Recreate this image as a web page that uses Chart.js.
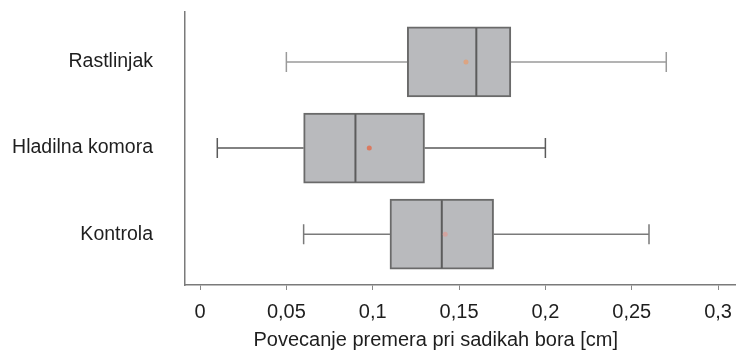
<!DOCTYPE html>
<html>
<head>
<meta charset="utf-8">
<script src="https://cdn.jsdelivr.net/npm/chart.js@4/dist/chart.umd.min.js"></script>
<style>
  html, body { margin: 0; padding: 0; background: #fff; }
  #wrap { width: 736px; height: 351px; }
</style>
</head>
<body>
<div id="wrap"><canvas id="c" width="736" height="351"></canvas></div>
<script>
// Povečanje premera sadik bora po obravnavanju (cm)
const categories  = ['Rastlinjak', 'Hladilna komora', 'Kontrola'];
const whiskerLow  = [0.05, 0.01, 0.06];
const q1          = [0.12, 0.06, 0.11];
const median      = [0.16, 0.09, 0.14];
const q3          = [0.18, 0.13, 0.17];
const whiskerHigh = [0.27, 0.20, 0.26];
const means       = [0.154, 0.098, 0.142];
const xTicks      = [0, 0.05, 0.1, 0.15, 0.2, 0.25, 0.3];
const xTitle      = 'Povecanje premera pri sadikah bora [cm]';

const whiskerColors = ['#9a9a9a', '#5a5a5a', '#7a7a7a'];
const meanColors    = ['rgba(226,160,120,0.85)', 'rgba(224,110,80,0.85)', 'rgba(226,150,140,0.6)'];

const fmt = v => String(Math.round(v * 100) / 100).replace('.', ',');
const FONT = 'Liberation Sans, Arial, sans-serif';

// Whiskers behind the boxes, medians and means on top of them, axis title below
const boxParts = {
  id: 'boxParts',
  beforeDatasetsDraw(chart) {
    const ctx = chart.ctx, xs = chart.scales.x, ys = chart.scales.y;
    ctx.save();
    ctx.lineWidth = 1.5;
    categories.forEach((c, i) => {
      const y = ys.getPixelForValue(i);
      const xl = xs.getPixelForValue(whiskerLow[i]);
      const xh = xs.getPixelForValue(whiskerHigh[i]);
      ctx.strokeStyle = whiskerColors[i];
      ctx.beginPath();
      ctx.moveTo(xl, y); ctx.lineTo(xs.getPixelForValue(q1[i]), y);
      ctx.moveTo(xs.getPixelForValue(q3[i]), y); ctx.lineTo(xh, y);
      ctx.moveTo(xl, y - 10); ctx.lineTo(xl, y + 10);
      ctx.moveTo(xh, y - 10); ctx.lineTo(xh, y + 10);
      ctx.stroke();
    });
    ctx.restore();
  },
  afterDatasetsDraw(chart) {
    const ctx = chart.ctx, xs = chart.scales.x, ys = chart.scales.y;
    const meta = chart.getDatasetMeta(0);
    ctx.save();
    categories.forEach((c, i) => {
      const half = meta.data[i].height / 2 - 1;
      const y = ys.getPixelForValue(i);
      const xm = xs.getPixelForValue(median[i]);
      ctx.strokeStyle = '#5c5c5c';
      ctx.lineWidth = 2;
      ctx.beginPath();
      ctx.moveTo(xm, y - half); ctx.lineTo(xm, y + half);
      ctx.stroke();
      ctx.fillStyle = meanColors[i];
      ctx.beginPath();
      ctx.arc(xs.getPixelForValue(means[i]), y, 2.5, 0, Math.PI * 2);
      ctx.fill();
    });
    ctx.restore();
  },
  afterDraw(chart) {
    const ctx = chart.ctx, xs = chart.scales.x;
    ctx.save();
    ctx.font = '20px ' + FONT;
    ctx.fillStyle = '#1e1e1e';
    ctx.textAlign = 'center';
    ctx.textBaseline = 'middle';
    ctx.fillText(xTitle, xs.getPixelForValue(0.1365), xs.bottom - 11);
    ctx.restore();
  }
};

new Chart(document.getElementById('c'), {
  type: 'bar',
  data: {
    datasets: [{
      data: categories.map((c, i) => ({ y: i, x: [q1[i], q3[i]] })),
      backgroundColor: '#b9babd',
      borderColor: '#6a6a6a',
      borderWidth: 2,
      borderSkipped: false,
      barThickness: 70
    }]
  },
  options: {
    indexAxis: 'y',
    responsive: false,
    animation: false,
    events: [],
    layout: { padding: { top: 12, right: 1, left: 0, bottom: 0 } },
    plugins: { legend: { display: false }, tooltip: { enabled: false } },
    scales: {
      x: {
        type: 'linear',
        min: -0.0087,
        max: 0.3098,
        afterBuildTicks: s => { s.ticks = xTicks.map(v => ({ value: v })); },
        afterFit: s => { s.height = 66; s.paddingLeft = 0; s.paddingRight = 0; },
        grid: { drawOnChartArea: false, drawTicks: true, tickLength: 5, color: '#888', lineWidth: 1 },
        border: { display: true, color: '#7a7a7a', width: 1.5 },
        ticks: {
          padding: 10,
          color: '#1e1e1e',
          font: { family: FONT, size: 20 },
          maxRotation: 0,
          callback: v => fmt(v)
        }
      },
      y: {
        type: 'linear',
        reverse: true,
        offset: false,
        min: -0.58,
        max: 2.59,
        afterBuildTicks: s => { s.ticks = categories.map((c, i) => ({ value: i })); },
        afterFit: s => { s.width = 185; s.paddingTop = 0; s.paddingBottom = 0; },
        grid: { display: false },
        border: { display: true, color: '#7a7a7a', width: 1.5 },
        ticks: {
          padding: 24,
          color: '#1e1e1e',
          font: { family: FONT, size: 19.5 },
          callback: v => categories[v]
        }
      }
    }
  },
  plugins: [boxParts]
});
</script>
</body>
</html>
